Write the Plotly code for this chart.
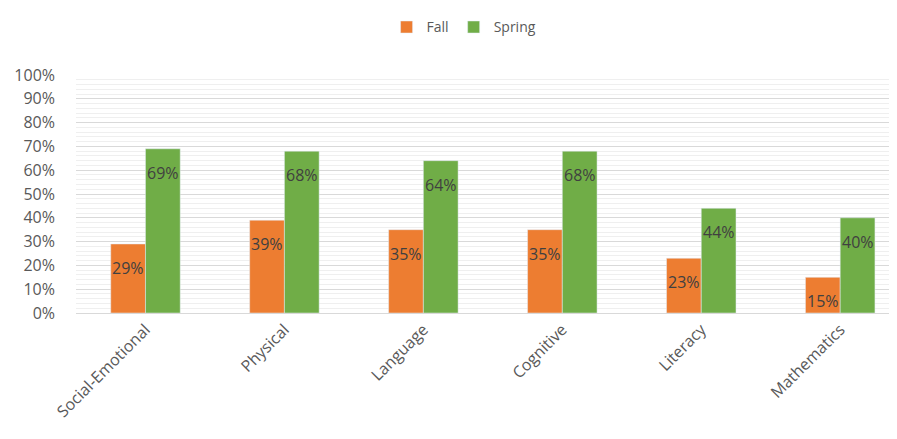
import plotly.graph_objects as go

categories = ["Social-Emotional", "Physical", "Language", "Cognitive", "Literacy", "Mathematics"]
fall = [0.29, 0.39, 0.35, 0.35, 0.23, 0.15]
spring = [0.69, 0.68, 0.64, 0.68, 0.44, 0.40]
fall_labels = ["29%", "39%", "35%", "35%", "23%", "15%"]
spring_labels = ["69%", "68%", "64%", "68%", "44%", "40%"]

ORANGE = "#ED7D31"
GREEN = "#70AD47"
FONT = "Open Sans, Liberation Sans, sans-serif"

fig = go.Figure()
fig.add_trace(go.Bar(name="Fall", x=categories, y=fall, marker_color=ORANGE))
fig.add_trace(go.Bar(name="Spring", x=categories, y=spring, marker_color=GREEN))

annotations = []
for i, c in enumerate(categories):
    annotations.append(dict(x=c, y=fall[i], text=fall_labels[i], xref="x", yref="y",
                            showarrow=False, xshift=-17.5, yshift=-24,
                            font=dict(size=16, color="#404040", family=FONT)))
    annotations.append(dict(x=c, y=spring[i], text=spring_labels[i], xref="x", yref="y",
                            showarrow=False, xshift=17.5, yshift=-24,
                            font=dict(size=16, color="#404040", family=FONT)))

fig.update_layout(
    width=889, height=431,
    margin=dict(l=68, r=4, t=61, b=126),
    paper_bgcolor="white", plot_bgcolor="white",
    barmode="group", bargap=0.5, bargroupgap=0,
    font=dict(family=FONT, color="#595959", size=15),
    legend=dict(orientation="h", x=0.475, xanchor="center", y=1.2, yanchor="middle",
                font=dict(size=14, color="#595959"), itemwidth=30, traceorder="normal",
                tracegroupgap=0),
    annotations=annotations,
    xaxis=dict(range=[-0.5, 5.38], tickangle=-45, showgrid=False, ticks="",
               automargin=False,
               showline=True, linecolor="#d9d9d9", tickfont=dict(size=16, color="#595959")),
    yaxis=dict(range=[0, 1.0], dtick=0.1, tickformat=".0%", showgrid=True,
               automargin=False, ticklabelstandoff=20,
               gridcolor="#d9d9d9", zeroline=False, ticks="",
               tickfont=dict(size=16, color="#595959"),
               minor=dict(dtick=0.02, showgrid=True, gridcolor="#efefef")),
)

fig.write_html("out.html")
